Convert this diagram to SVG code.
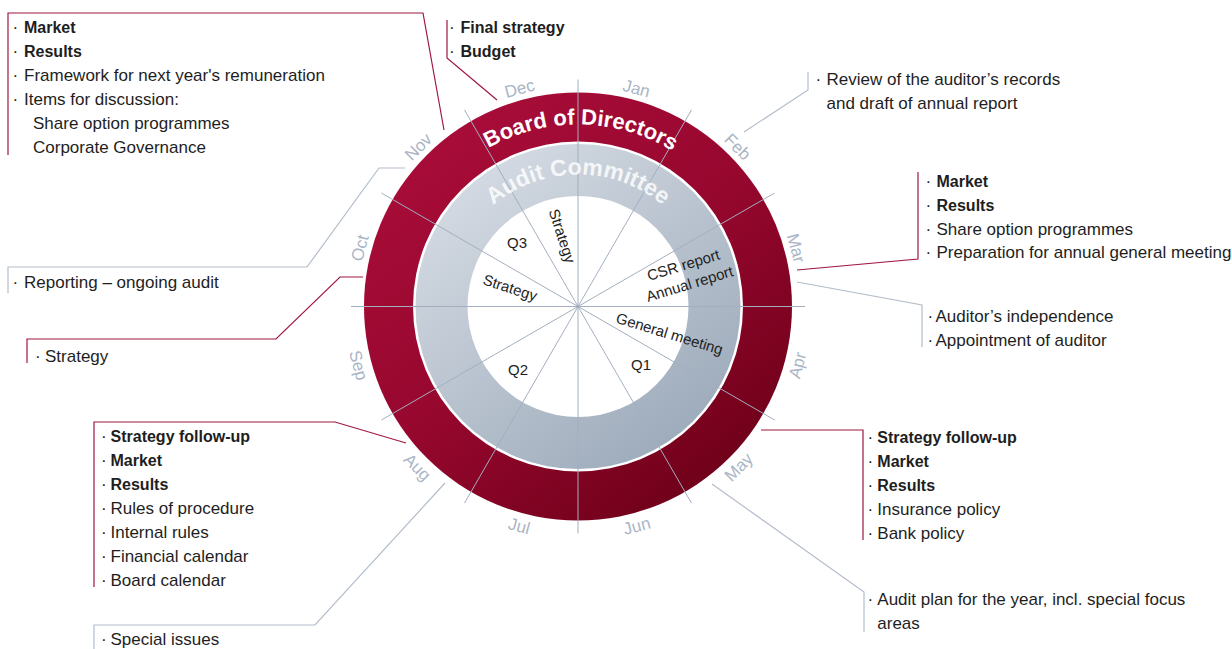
<svg xmlns="http://www.w3.org/2000/svg" width="1232" height="649" viewBox="0 0 1232 649">
<defs>
<linearGradient id="redGrad" x1="0.15" y1="0.05" x2="0.85" y2="0.95">
<stop offset="0" stop-color="#a90d39"/>
<stop offset="0.5" stop-color="#96072e"/>
<stop offset="1" stop-color="#6c0018"/>
</linearGradient>
<linearGradient id="grayGrad" x1="0.15" y1="0.05" x2="0.85" y2="0.95">
<stop offset="0" stop-color="#d6dce4"/>
<stop offset="1" stop-color="#9ba9b9"/>
</linearGradient>
<path id="arcBoard" d="M 396 306.5 A 182 182 0 0 1 760 306.5"/>
<path id="arcAudit" d="M 446 306.5 A 132 132 0 0 1 710 306.5"/>
<style>
text{font-family:"Liberation Sans",Arial,sans-serif;}
.t{font-size:17px;fill:#1e1e1e;}
.b{font-weight:bold;font-size:16px;}
.in{font-size:15px;fill:#1e1e1e;}
.mon{font-size:17px;fill:#aab5c5;text-anchor:middle;}
.rl{fill:none;stroke:#a1173f;stroke-width:1.2;}
.gl{fill:none;stroke:#b3bdca;stroke-width:1.2;}
.spoke{stroke:#a3afbf;stroke-width:1;}
</style>
</defs>
<rect width="1232" height="649" fill="#ffffff"/>

<g id="wheel">
<circle cx="578" cy="306.5" r="214" fill="url(#redGrad)"/>
<circle cx="578" cy="306.5" r="165" fill="#ffffff"/>
<circle cx="578" cy="306.5" r="162.5" fill="url(#grayGrad)"/>
<circle cx="578" cy="306.5" r="110.5" fill="#ffffff"/>
<g class="spoke">
<line x1="351" y1="306.5" x2="805" y2="306.5"/>
<line x1="578" y1="79.5" x2="578" y2="533.5"/>
<line x1="774.6" y1="193" x2="381.4" y2="420"/>
<line x1="691.5" y1="109.9" x2="464.5" y2="503.1"/>
<line x1="464.5" y1="109.9" x2="691.5" y2="503.1"/>
<line x1="381.4" y1="193" x2="774.6" y2="420"/>
</g>
<text font-size="22" font-weight="bold" fill="#ffffff" text-anchor="middle"><textPath href="#arcBoard" startOffset="50.5%">Board of Directors</textPath></text>
<text font-size="23" font-weight="bold" fill="#ffffff" fill-opacity="0.82" text-anchor="middle"><textPath href="#arcAudit" startOffset="50%">Audit Committee</textPath></text>
<g id="months">
<text class="mon" transform="translate(578 306.5) rotate(15) translate(0 -220)">Jan</text>
<text class="mon" transform="translate(578 306.5) rotate(45) translate(0 -220)">Feb</text>
<text class="mon" transform="translate(578 306.5) rotate(75) translate(0 -220)">Mar</text>
<text class="mon" transform="translate(578 306.5) rotate(105) translate(0 -233) rotate(180)">Apr</text>
<text class="mon" transform="translate(578 306.5) rotate(135) translate(0 -233) rotate(180)">May</text>
<text class="mon" transform="translate(578 306.5) rotate(165) translate(0 -233) rotate(180)">Jun</text>
<text class="mon" transform="translate(578 306.5) rotate(195) translate(0 -233) rotate(180)">Jul</text>
<text class="mon" transform="translate(578 306.5) rotate(225) translate(0 -233) rotate(180)">Aug</text>
<text class="mon" transform="translate(578 306.5) rotate(255) translate(0 -233) rotate(180)">Sep</text>
<text class="mon" transform="translate(578 306.5) rotate(-75) translate(0 -220)">Oct</text>
<text class="mon" transform="translate(578 306.5) rotate(-45) translate(0 -220)">Nov</text>
<text class="mon" transform="translate(578 306.5) rotate(-15) translate(0 -220)">Dec</text>
</g>
<g id="inner">
<text class="in" x="507" y="248">Q3</text>
<text class="in" text-anchor="middle" transform="translate(562 236) rotate(72)" y="5">Strategy</text>
<text class="in" text-anchor="middle" transform="translate(510 288) rotate(18)" y="5">Strategy</text>
<text class="in" transform="translate(649 281) rotate(-17)">CSR report</text>
<text class="in" transform="translate(648 302) rotate(-17)">Annual report</text>
<text class="in" transform="translate(615 322.5) rotate(17)">General meeting</text>
<text class="in" x="631" y="370">Q1</text>
<text class="in" x="508" y="375">Q2</text>
</g>
</g>

<g id="connectors">
<polyline class="rl" points="8,155 8,13 423,13 444,130"/>
<polyline class="rl" points="447,20 447,58 497,100"/>
<polyline class="gl" points="744,132 808,90 808,72"/>
<polyline class="rl" points="797,270 918,259 918,172"/>
<polyline class="gl" points="797,282 922,305 922,347"/>
<polyline class="gl" points="8,293 8,267 307,267 379,168 405,168"/>
<polyline class="rl" points="27,363 27,339 276,339 340,277 363,277"/>
<polyline class="rl" points="94,587 94,422 335,422 406,443"/>
<polyline class="gl" points="445,483 315,625 94,625 94,649"/>
<polyline class="rl" points="761,430 863,430 863,540"/>
<polyline class="gl" points="712,484 864,592 864,632"/>
</g>

<g id="nov-board">
<text class="t" y="33"><tspan x="12.5">·</tspan><tspan x="24" class="b">Market</tspan></text>
<text class="t" y="57"><tspan x="12.5">·</tspan><tspan x="24" class="b">Results</tspan></text>
<text class="t" y="81"><tspan x="12.5">·</tspan><tspan x="24">Framework for next year's remuneration</tspan></text>
<text class="t" y="105"><tspan x="12.5">·</tspan><tspan x="24">Items for discussion:</tspan></text>
<text class="t" x="33" y="129">Share option programmes</text>
<text class="t" x="33" y="153">Corporate Governance</text>
</g>

<g id="dec-board">
<text class="t" y="33"><tspan x="449">·</tspan><tspan x="460.5" class="b">Final strategy</tspan></text>
<text class="t" y="57"><tspan x="449">·</tspan><tspan x="460.5" class="b">Budget</tspan></text>
</g>

<g id="feb-audit">
<text class="t" y="85"><tspan x="815.5">·</tspan><tspan x="826.5">Review of the auditor’s records</tspan></text>
<text class="t" x="826.5" y="109">and draft of annual report</text>
</g>

<g id="mar-board">
<text class="t" y="187"><tspan x="925.5">·</tspan><tspan x="936.5" class="b">Market</tspan></text>
<text class="t" y="211"><tspan x="925.5">·</tspan><tspan x="936.5" class="b">Results</tspan></text>
<text class="t" y="234.5"><tspan x="925.5">·</tspan><tspan x="936.5">Share option programmes</tspan></text>
<text class="t" y="258"><tspan x="925.5">·</tspan><tspan x="936.5">Preparation for annual general meeting</tspan></text>
</g>

<g id="apr-audit">
<text class="t" y="322"><tspan x="927.5">·</tspan><tspan x="935.5">Auditor’s independence</tspan></text>
<text class="t" y="346"><tspan x="927.5">·</tspan><tspan x="935.5">Appointment of auditor</tspan></text>
</g>

<g id="oct-audit">
<text class="t" y="288"><tspan x="12.5">·</tspan><tspan x="24">Reporting – ongoing audit</tspan></text>
</g>

<g id="oct-board">
<text class="t" y="361.5"><tspan x="35">·</tspan><tspan x="45">Strategy</tspan></text>
</g>

<g id="aug-board">
<text class="t" y="442"><tspan x="101">·</tspan><tspan x="110.5" class="b">Strategy follow-up</tspan></text>
<text class="t" y="466"><tspan x="101">·</tspan><tspan x="110.5" class="b">Market</tspan></text>
<text class="t" y="490"><tspan x="101">·</tspan><tspan x="110.5" class="b">Results</tspan></text>
<text class="t" y="514"><tspan x="101">·</tspan><tspan x="110.5">Rules of procedure</tspan></text>
<text class="t" y="538"><tspan x="101">·</tspan><tspan x="110.5">Internal rules</tspan></text>
<text class="t" y="562"><tspan x="101">·</tspan><tspan x="110.5">Financial calendar</tspan></text>
<text class="t" y="586"><tspan x="101">·</tspan><tspan x="110.5">Board calendar</tspan></text>
</g>

<g id="aug-audit">
<text class="t" y="645"><tspan x="101">·</tspan><tspan x="110.5">Special issues</tspan></text>
</g>

<g id="may-board">
<text class="t" y="442.5"><tspan x="867.5">·</tspan><tspan x="877.3" class="b">Strategy follow-up</tspan></text>
<text class="t" y="466.5"><tspan x="867.5">·</tspan><tspan x="877.3" class="b">Market</tspan></text>
<text class="t" y="490.5"><tspan x="867.5">·</tspan><tspan x="877.3" class="b">Results</tspan></text>
<text class="t" y="514.5"><tspan x="867.5">·</tspan><tspan x="877.3">Insurance policy</tspan></text>
<text class="t" y="538.5"><tspan x="867.5">·</tspan><tspan x="877.3">Bank policy</tspan></text>
</g>

<g id="may-audit">
<text class="t" y="605"><tspan x="867.5">·</tspan><tspan x="877.3">Audit plan for the year, incl. special focus</tspan></text>
<text class="t" x="877.3" y="628.5">areas</text>
</g>
</svg>
